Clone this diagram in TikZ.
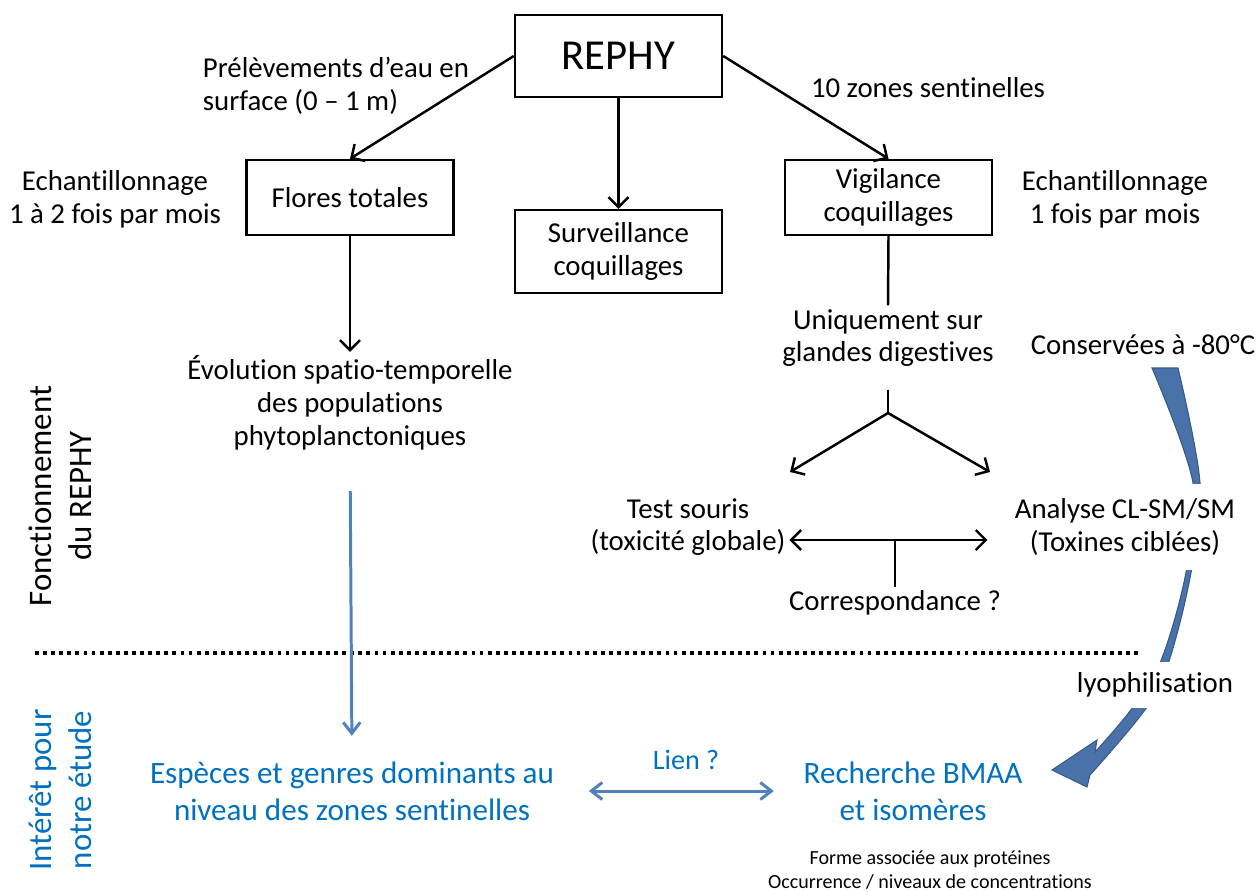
\documentclass[tikz,border=0pt]{standalone}
\usepackage{fontspec}
\setmainfont[Ligatures=NoCommon]{Carlito}
\usetikzlibrary{arrows.meta,positioning}
\definecolor{txtblue}{RGB}{0,112,192}
\definecolor{arrblue}{RGB}{79,129,189}
\definecolor{curvfill}{RGB}{74,114,170}
\definecolor{curvline}{RGB}{55,90,135}

\begin{document}
\begin{tikzpicture}[
      box/.style={draw, line width=1.4pt, minimum width=4.14cm, minimum height=1.5cm,
                  align=center, font=\fontsize{16.4}{18.7}\selectfont},
      txt/.style={align=center, inner sep=2pt, font=\fontsize{16.4}{18.7}\selectfont},
      btxt/.style={align=center, inner sep=2pt, text=txtblue, font=\fontsize{17.7}{21}\selectfont},
      small/.style={align=center, inner sep=2pt, font=\fontsize{11.4}{13.6}\selectfont},
      side/.style={rotate=90, align=center, font=\fontsize{18.7}{22.7}\selectfont},
      ln/.style={line width=1.4pt},
      arr/.style={-{Straight Barb[length=2mm,width=4mm]}, line width=1.4pt},
      arrD/.style={{Straight Barb[length=2mm,width=4mm]}-{Straight Barb[length=2mm,width=4mm]}, line width=1.4pt},
      arrB/.style={-{Straight Barb[length=2.2mm,width=3.4mm]}, line width=1.7pt, arrblue},
      arrBD/.style={{Straight Barb[length=2.2mm,width=3.4mm]}-{Straight Barb[length=2.2mm,width=3.4mm]}, line width=1.7pt, arrblue},
      curv/.style={fill=curvfill, draw=curvline, line width=0.6pt},
      sep/.style={line width=2.2pt, dash pattern=on 2.2pt off 2.4pt},
    ]
    \useasboundingbox (0,0) rectangle (25.2,-17.84);

    \fill[curv] plot[smooth, tension=0.6] coordinates {(23.04,-7.36) (23.86,-9.66) (23.74,-11.34) (23.24,-13.16) (22.66,-14.14) (21.9,-15.04)}
      -- (21.94,-14.8) -- (21.04,-15.4) -- (21.74,-15.74)
      -- plot[smooth, tension=0.6] coordinates {(21.8,-15.5) (22.94,-14.14) (23.4,-13.16) (23.84,-11.34) (24.0,-9.66) (23.56,-7.36)}
      -- cycle;

    \node[box, minimum height=1.64cm, font=\fontsize{24.3}{28}\selectfont] (rephy) at (12.37,-1.12) {REPHY};
    \node[box] (flores) at (7.0,-3.95)   {Flores totales};
    \node[box, minimum height=1.66cm] (surv) at (12.37,-5.03) {Surveillance\\coquillages};
    \node[box] (vig)    at (17.77,-3.95) {Vigilance\\coquillages};

    \node[txt, align=left, anchor=west] (prel) at (3.98,-1.71) {Prélèvements d’eau en\\surface (0 – 1 m)};
    \node[txt] (zones) at (18.56,-1.76) {10 zones sentinelles};
    \node[txt] (echL)  at (2.3,-3.98)   {Echantillonnage\\1 à 2 fois par mois};
    \node[txt] (echR)  at (22.3,-3.98)  {Echantillonnage\\1 fois par mois};

    \node[txt] (evol)  at (7.0,-8.06)   {Évolution spatio-temporelle\\des populations\\phytoplanctoniques};
    \node[txt] (uniq)  at (17.76,-6.76) {Uniquement sur\\glandes digestives};
    \node[txt] (cons)  at (22.86,-6.9)  {Conservées à -80°C};
    \node[txt] (test)  at (13.76,-10.54) {Test souris\\(toxicité globale)};
    \node[txt, fill=white, inner xsep=0.1cm, inner ysep=0.3cm] (anal) at (22.5,-10.54) {Analyse CL-SM/SM\\(Toxines ciblées)};
    \node[txt] (corr)  at (17.9,-12.06) {Correspondance ?};
    \node[txt, fill=white, inner ysep=0.22cm] (lyo) at (23.1,-13.7) {lyophilisation};

    \node[btxt] (esp)  at (7.04,-15.82) {Espèces et genres dominants au\\niveau des zones sentinelles};
    \node[btxt, font=\fontsize{16}{19}\selectfont] (lien) at (13.72,-15.2) {Lien ?};
    \node[btxt] (rech) at (18.26,-15.82) {Recherche BMAA\\et isomères};
    \node[small] (forme) at (18.6,-17.4) {Forme associée aux protéines\\Occurrence / niveaux de concentrations};

    \node[side] (fonct) at (1.2,-9.92) {Fonctionnement\\du REPHY};
    \node[side, text=txtblue] (inter) at (1.2,-15.8) {Intérêt pour\\notre étude};

    \coordinate (fork)  at (17.76,-8.26);
    \coordinate (forkL) at (15.8,-9.44);
    \coordinate (forkR) at (19.8,-9.44);

    \draw[arr] (rephy.west)  -- (flores.north);
    \draw[arr] (rephy.south) -- (surv.north);
    \draw[arr] (rephy.east)  -- (vig.north);
    \draw[arr] (flores.south) -- (evol.north);
    \draw[ln]  (vig.south) -- (uniq.north);
    \draw[ln, shorten <=0.38cm] (uniq.south) -- (fork);
    \draw[arr] (fork) -- (forkL);
    \draw[arr] (fork) -- (forkR);
    \draw[arrD] ([yshift=-0.26cm]test.east) -- coordinate[pos=0.5] (mid) ([yshift=-0.26cm,xshift=-0.44cm]anal.west);
    \draw[ln] (corr.north) -- (corr.north |- mid);

    \draw[sep] (0.7,-13.06) -- (22.8,-13.06);

    \draw[arrB, shorten <=0.74cm, shorten >=0.44cm] (evol.south) -- (esp.north);
    \draw[arrBD, shorten <=0.62cm, shorten >=0.52cm] (esp.east) -- (rech.west);
  \end{tikzpicture}
\end{document}
